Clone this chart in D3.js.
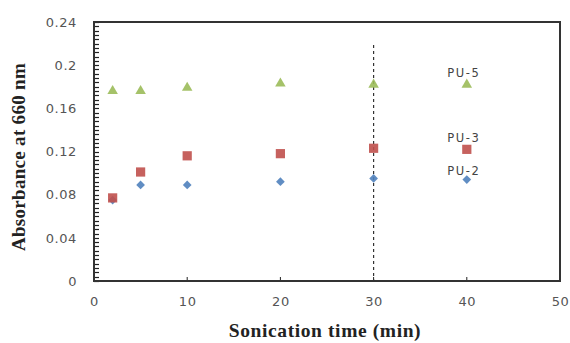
<!DOCTYPE html>
<html>
<head>
<meta charset="utf-8">
<script src="https://cdn.jsdelivr.net/npm/d3@7"></script>
<style>
  body { margin: 0; background: #fff; }
  svg { display: block; }
</style>
</head>
<body>
<div id="chart"></div>
<script>
const times = [2, 5, 10, 20, 30, 40];
const pu2 = [0.075, 0.089, 0.089, 0.092, 0.095, 0.094];
const pu3 = [0.077, 0.101, 0.116, 0.118, 0.123, 0.122];
const pu5 = [0.176, 0.176, 0.179, 0.183, 0.182, 0.182];
const xTicks = [0, 10, 20, 30, 40, 50];
const yTicks = [0, 0.04, 0.08, 0.12, 0.16, 0.2, 0.24];
const markerLine = 30;

const W = 570, H = 343;
const margin = { top: 22, right: 10, bottom: 62, left: 94 };
const width = W - margin.left - margin.right;
const height = H - margin.top - margin.bottom;

const svg = d3.select('#chart').append('svg')
  .attr('width', W).attr('height', H);

const g = svg.append('g')
  .attr('transform', 'translate(' + margin.left + ',' + margin.top + ')');

const x = d3.scaleLinear().domain([0, 50]).range([0, width]);
const y = d3.scaleLinear().domain([0, 0.24]).range([height, 0]);

// minor ticks on y (inside)
const minor = d3.range(0, 0.2401, 0.004);
g.append('g').selectAll('line').data(minor).join('line')
  .attr('x1', 0).attr('x2', 5)
  .attr('y1', d => Math.round(y(d)) + 0.5).attr('y2', d => Math.round(y(d)) + 0.5)
  .attr('stroke', '#222').attr('stroke-width', 1.2);

const tickFont = 'DejaVu Sans, sans-serif';

// y axis
const yAxis = g.append('g')
  .call(d3.axisLeft(y).tickValues(yTicks).tickSize(0).tickPadding(17)
    .tickFormat(d => d3.format('')(+d.toFixed(2))));
yAxis.select('.domain').remove();
yAxis.selectAll('text')
  .attr('font-family', tickFont).attr('font-size', 13)
  .attr('letter-spacing', 0.6)
  .attr('fill', '#555');

// x axis
const xAxis = g.append('g')
  .attr('transform', 'translate(0,' + height + ')')
  .call(d3.axisBottom(x).tickValues(xTicks).tickSize(0).tickPadding(16));
xAxis.select('.domain').remove();
xAxis.selectAll('text')
  .attr('font-family', tickFont).attr('font-size', 13)
  .attr('letter-spacing', 0.6)
  .attr('fill', '#555');

// x ticks inside
g.append('g').selectAll('line').data(xTicks.slice(1, -1)).join('line')
  .attr('x1', d => x(d)).attr('x2', d => x(d))
  .attr('y1', height).attr('y2', height - 4)
  .attr('stroke', '#222');

// frame
g.append('rect')
  .attr('width', width).attr('height', height)
  .attr('fill', 'none').attr('stroke', '#333').attr('stroke-width', 2);

// dashed vertical line
g.append('line')
  .attr('x1', x(markerLine)).attr('x2', x(markerLine))
  .attr('y1', 23).attr('y2', height)
  .attr('stroke', '#333').attr('stroke-width', 1.2)
  .attr('stroke-dasharray', '3,3');

// series
const series = [
  { name: 'PU-2', values: pu2, symbol: d3.symbolSquare, size: 38, rot: 45, color: '#4f81bd', dy: -5 },
  { name: 'PU-3', values: pu3, symbol: d3.symbolSquare, size: 85, rot: 0, color: '#c0504d', dy: -7 },
  { name: 'PU-5', values: pu5, symbol: d3.symbolTriangle, size: 48, rot: 0, color: '#9bbb59', dy: -8 }
];

series.forEach(s => {
  g.append('g').selectAll('path').data(times).join('path')
    .attr('transform', (d, i) => 'translate(' + x(d) + ',' + y(s.values[i]) + ') rotate(' + s.rot + ')')
    .attr('d', d3.symbol().type(s.symbol).size(s.size))
    .attr('fill', s.color).attr('opacity', 0.9);

  const last = times.length - 1;
  g.append('text')
    .attr('x', x(times[last]) - 3)
    .attr('y', y(s.values[last]) + s.dy)
    .attr('text-anchor', 'middle')
    .attr('font-family', tickFont)
    .attr('font-size', 11.5)
    .attr('letter-spacing', 1.6)
    .attr('fill', '#444')
    .text(s.name);
});

// axis titles
svg.append('text')
  .attr('x', margin.left + width / 2 - 2)
  .attr('y', 337)
  .attr('text-anchor', 'middle')
  .attr('font-family', 'Liberation Serif, serif')
  .attr('font-weight', 'bold').attr('font-size', 19.5)
  .attr('letter-spacing', 0.6)
  .attr('fill', '#222')
  .text('Sonication time (min)');

svg.append('text')
  .attr('transform', 'translate(25,157) rotate(-90)')
  .attr('text-anchor', 'middle')
  .attr('font-family', 'Liberation Serif, serif')
  .attr('font-weight', 'bold').attr('font-size', 19)
  .attr('letter-spacing', 0.3)
  .attr('fill', '#222')
  .text('Absorbance at 660 nm');
</script>
</body>
</html>
